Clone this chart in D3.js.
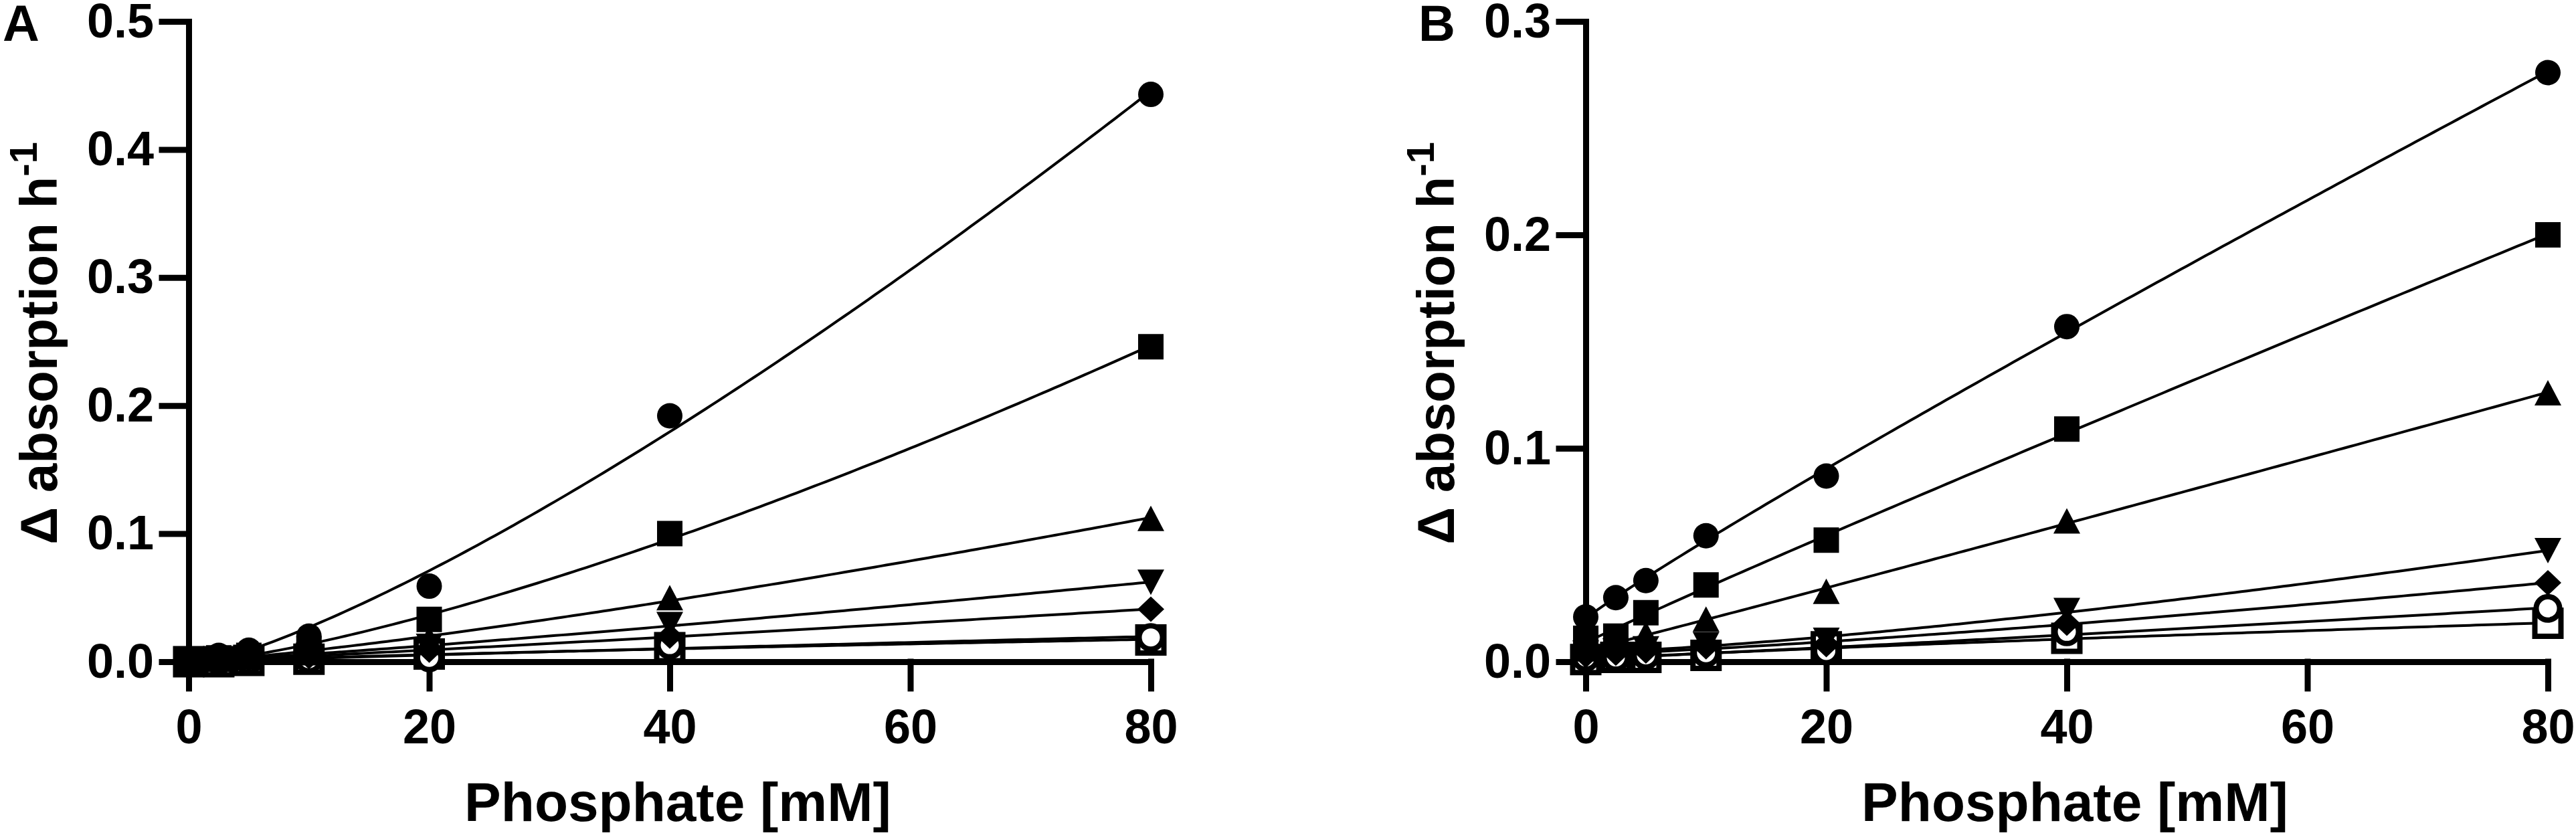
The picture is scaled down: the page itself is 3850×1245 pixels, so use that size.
<!DOCTYPE html>
<html>
<head>
<meta charset="utf-8">
<script src="https://cdn.jsdelivr.net/npm/d3@7"></script>
<style>
  body { margin: 0; background: #fff; }
  svg { display: block; background: #fff; }
  text { font-family: "Liberation Sans", Arial, sans-serif; font-weight: bold; fill: #000; }
</style>
</head>
<body>
<svg id="chart" width="3850" height="1245"></svg>
<script>
// phosphate concentrations [mM]
var phosphate = [0, 2.5, 5, 10, 20, 40, 80];
var xTicks = [0, 20, 40, 60, 80];
var yTicksA = [0, 0.1, 0.2, 0.3, 0.4, 0.5];
var yTicksB = [0, 0.1, 0.2, 0.3];
var symbolOrder = ["circle", "square", "triangle", "triangleDown", "diamond", "openSquare", "openCircle"];

// panel A, delta absorption per hour
var circleA       = [0.002, 0.005, 0.009, 0.020, 0.059, 0.192, 0.443];
var squareA       = [0.001, 0.003, 0.005, 0.010, 0.033, 0.100, 0.246];
var triangleA     = [0.001, 0.002, 0.004, 0.007, 0.018, 0.050, 0.112];
var triangleDownA = [0.001, 0.002, 0.003, 0.005, 0.012, 0.029, 0.062];
var diamondA      = [0.001, 0.001, 0.002, 0.004, 0.009, 0.020, 0.041];
var openSquareA   = [0.000, 0.000, 0.001, 0.002, 0.006, 0.011, 0.017];
var openCircleA   = [0.000, 0.001, 0.001, 0.002, 0.003, 0.013, 0.019];

// panel B
var circleB       = [0.021, 0.030, 0.038, 0.059, 0.087, 0.157, 0.276];
var squareB       = [0.011, 0.012, 0.023, 0.036, 0.057, 0.109, 0.200];
var triangleB     = [0.006, 0.008, 0.013, 0.020, 0.033, 0.066, 0.126];
var triangleDownB = [0.004, 0.005, 0.006, 0.008, 0.010, 0.024, 0.052];
var diamondB      = [0.003, 0.004, 0.005, 0.007, 0.008, 0.018, 0.037];
var openSquareB   = [0.001, 0.002, 0.002, 0.003, 0.007, 0.011, 0.018];
var openCircleB   = [0.002, 0.002, 0.003, 0.004, 0.005, 0.014, 0.025];

var svg = d3.select("#chart");

// marker shapes, centred on 0,0
function markerPath(kind) {
  var p = d3.path();
  if (kind == "circle") return d3.symbol(d3.symbolCircle, Math.PI * 19 * 19)();
  if (kind == "square") return d3.symbol(d3.symbolSquare, 38 * 38)();
  if (kind == "openCircle") return d3.symbol(d3.symbolCircle, Math.PI * 17.5 * 17.5)();
  if (kind == "openSquare") return d3.symbol(d3.symbolSquare, 39 * 39)();
  if (kind == "triangle") {
    p.moveTo(0, -19); p.lineTo(20, 19); p.lineTo(-20, 19); p.closePath();
  } else if (kind == "triangleDown") {
    p.moveTo(0, 19); p.lineTo(20, -19); p.lineTo(-20, -19); p.closePath();
  } else if (kind == "diamond") {
    p.moveTo(0, -19); p.lineTo(20, 0); p.lineTo(0, 19); p.lineTo(-20, 0); p.closePath();
  }
  return p.toString();
}

// least squares fit  y = c + a*x^p  (grid on p)
function fitCurve(xs, ys) {
  var best = null;
  for (var p = 0.5; p <= 2.5; p += 0.005) {
    var u = xs.map(function (x) { return Math.pow(x, p); });
    var mu = d3.mean(u), my = d3.mean(ys);
    var sxy = d3.sum(u, function (v, i) { return (v - mu) * (ys[i] - my); });
    var sxx = d3.sum(u, function (v) { return (v - mu) * (v - mu); });
    var a = sxy / sxx, c = my - a * mu;
    var err = d3.sum(u, function (v, i) { return Math.pow(c + a * v - ys[i], 2); });
    if (!best || err < best.err) best = { a: a, c: c, p: p, err: err };
  }
  return d3.range(0, 80.001, 0.5).map(function (x) {
    return [x, best.c + best.a * Math.pow(x, best.p)];
  });
}

function drawPanel(cfg) {
  var x = d3.scaleLinear().domain([0, 80]).range([cfg.left, cfg.left + 1438]);
  var y = d3.scaleLinear().domain([0, cfg.yMax]).range([989, 32]);
  var g = svg.append("g");

  // clip so fitted lines stay in the plot
  g.append("clipPath").attr("id", "clip" + cfg.label)
    .append("rect")
    .attr("x", x(0)).attr("y", y(cfg.yMax) - 20)
    .attr("width", x(80) - x(0) + 10).attr("height", y(0) - y(cfg.yMax) + 20);

  // y axis
  var yAxis = g.append("g")
    .attr("transform", "translate(" + x(0) + ",0)")
    .call(d3.axisLeft(y).tickValues(cfg.yTicks).tickFormat(d3.format(".1f"))
      .tickSize(40).tickSizeOuter(0).tickPadding(12));
  // x axis
  var xAxis = g.append("g")
    .attr("transform", "translate(0," + y(0) + ")")
    .call(d3.axisBottom(x).tickValues(xTicks).tickFormat(d3.format("d"))
      .tickSize(40).tickSizeOuter(0).tickPadding(31));
  [yAxis, xAxis].forEach(function (ax) {
    ax.selectAll("path, line").attr("stroke", "#000").attr("stroke-width", 9)
      .attr("stroke-linecap", "square");
    ax.selectAll("text").attr("fill", "#000").style("font-size", "72px");
  });

  // fitted curves
  g.append("g")
    .attr("clip-path", "url(#clip" + cfg.label + ")")
    .selectAll("path")
    .data(cfg.series)
    .enter()
    .append("path")
    .attr("d", function (s) {
      return d3.line().x(function (d) { return x(d[0]); }).y(function (d) { return y(d[1]); })(fitCurve(phosphate, s.values));
    })
    .attr("fill", "none")
    .attr("stroke", "#000")
    .attr("stroke-width", 4);

  // data points: open symbols first, filled ones on top
  var openFirst = cfg.series.filter(function (s) { return s.kind.indexOf("open") == 0; })
    .concat(cfg.series.filter(function (s) { return s.kind.indexOf("open") != 0; }));
  openFirst.forEach(function (s) {
    var open = s.kind.indexOf("open") == 0;
    g.append("g")
      .selectAll("path")
      .data(s.values)
      .enter()
      .append("path")
      .attr("d", markerPath(s.kind))
      .attr("transform", function (d, i) { return "translate(" + x(phosphate[i]) + "," + y(d) + ")"; })
      .attr("fill", open ? "#fff" : "#000")
      .attr("stroke", open ? "#000" : "none")
      .attr("stroke-width", open ? 8 : 0);
  });

  // panel letter
  g.append("text").attr("x", cfg.letterX).attr("y", 61)
    .style("font-size", "76px").text(cfg.label);

  // axis titles
  g.append("text")
    .attr("x", (x(0) + x(80)) / 2 + 12).attr("y", 1227)
    .attr("text-anchor", "middle").style("font-size", "82px")
    .text("Phosphate [mM]");
  var yt = g.append("text")
    .attr("transform", "translate(" + (x(0) - 197) + ",513) rotate(-90)")
    .attr("text-anchor", "middle").style("font-size", "78px");
  yt.append("tspan").text("\u0394 absorption h");
  yt.append("tspan").attr("dy", -30).style("font-size", "58px").text("-1");
}

function makeSeries(lists) {
  return symbolOrder.map(function (k, i) { return { kind: k, values: lists[i] }; });
}

drawPanel({
  label: "A", left: 282, letterX: 4, yMax: 0.5, yTicks: yTicksA,
  series: makeSeries([circleA, squareA, triangleA, triangleDownA, diamondA, openSquareA, openCircleA])
});
drawPanel({
  label: "B", left: 2370, letterX: 2120, yMax: 0.3, yTicks: yTicksB,
  series: makeSeries([circleB, squareB, triangleB, triangleDownB, diamondB, openSquareB, openCircleB])
});
</script>
</body>
</html>
